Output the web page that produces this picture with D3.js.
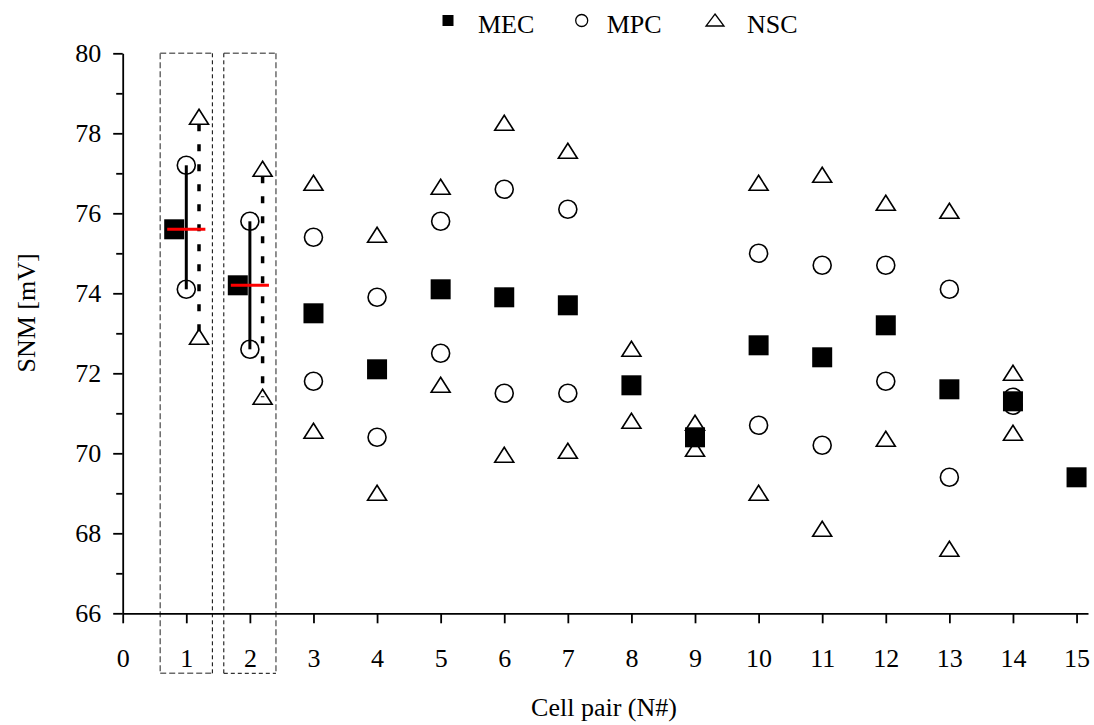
<!DOCTYPE html>
<html>
<head>
<meta charset="utf-8">
<script src="https://cdn.jsdelivr.net/npm/d3@7"></script>
<style>
  body { margin: 0; background: #fff; }
  svg { display: block; font-family: "Liberation Serif", "Times New Roman", serif; }
</style>
</head>
<body>
<svg id="svg"></svg>
<script>
// cell pairs 1..15
const cells = [1, 2, 3, 4, 5, 6, 7, 8, 9, 10, 11, 12, 13, 14, 15];
const mec = [75.6, 74.2, 73.5, 72.1, 74.1, 73.9, 73.7, 71.7, 70.4, 72.7, 72.4, 73.2, 71.6, 71.3, 69.4];
const mpcHigh = [77.2, 75.8, 75.4, 73.9, 75.8, 76.6, 76.1, null, null, 75.0, 74.7, 74.7, 74.1, 71.4, null];
const mpcLow = [74.1, 72.6, 71.8, 70.4, 72.5, 71.5, 71.5, null, null, 70.7, 70.2, 71.8, 69.4, 71.2, null];
const nscHigh = [78.4, 77.1, 76.75, 75.45, 76.65, 78.25, 77.55, 72.6, 70.75, 76.75, 76.95, 76.25, 76.05, 72.0, null];
const nscLow = [72.9, 71.4, 70.55, 69.0, 71.7, 69.95, 70.05, 70.8, 70.1, 69.0, 68.1, 70.35, 67.6, 70.5, null];
const xTicks = d3.range(0, 16);
const yTicks = d3.range(66, 81, 2);
const yMinor = d3.range(67, 80, 2);
const series = ["MEC", "MPC", "NSC"];

// the first two pairs are drawn spread out with their ranges
const spread = [1, 2];
const shift = { MEC: -0.19, MPC: 0, NSC: 0.2 };

const svgWidth = 1094;
const svgHeight = 725;
const svg = d3.select("svg").attr("width", svgWidth).attr("height", svgHeight);

const x = d3.scaleLinear().domain([0, 15.18]).range([122.7, 1088]);
const y = d3.scaleLinear().domain([66, 80]).range([613.3, 53.3]);

function px(cell, name) {
    return x(cell + (spread.includes(cell) ? shift[name] : 0));
}

// dashed boxes round pairs 1 and 2
const boxHalf = 0.41;
const boxBottom = 64.5;
const gray = { stroke: "#6b6b6b", width: 1.5, dash: "6,3" };
const dark = { stroke: "#000", width: 1, dash: "4,3" };
spread.forEach((c, i) => {
    const l = x(c - boxHalf), r = x(c + boxHalf), t = y(80), b = y(boxBottom);
    const sides = [
        [l, t, r, t, gray],
        [l, t, l, b, i == 0 ? gray : dark],
        [r, t, r, b, i == 0 ? dark : gray],
        [l, b, r, b, i == 0 ? gray : dark]
    ];
    sides.forEach(s => {
        svg.append("line")
            .attr("x1", s[0]).attr("y1", s[1]).attr("x2", s[2]).attr("y2", s[3])
            .attr("stroke", s[4].stroke)
            .attr("stroke-width", s[4].width)
            .attr("stroke-dasharray", s[4].dash);
    });
});

// axes
const yAxis = svg.append("g")
    .attr("transform", "translate(" + x(0) + ",0)")
    .call(d3.axisLeft(y).tickValues(yTicks).tickSize(9.5).tickSizeOuter(0).tickPadding(12));
svg.append("g")
    .attr("transform", "translate(" + x(0) + ",0)")
    .call(d3.axisLeft(y).tickValues(yMinor).tickSize(6.5).tickSizeOuter(0).tickFormat(""))
    .select(".domain").remove();
const xAxis = svg.append("g")
    .attr("transform", "translate(0," + y(66) + ")")
    .call(d3.axisBottom(x).tickValues(xTicks).tickSize(10).tickSizeOuter(0).tickPadding(25.5));

svg.selectAll(".domain, .tick line").attr("stroke", "#000").attr("stroke-width", 1.8);
svg.selectAll(".tick text")
    .attr("fill", "#000")
    .style("font-size", "26px")
    .style("font-family", "Liberation Serif, serif");

// axis titles
svg.append("text")
    .attr("x", 604).attr("y", 716)
    .attr("text-anchor", "middle")
    .style("font-size", "26px")
    .text("Cell pair (N#)");
svg.append("text")
    .attr("transform", "translate(35,313) rotate(-90)")
    .attr("text-anchor", "middle")
    .style("font-size", "26px")
    .text("SNM [mV]");

// markers
const triangle = "M0,-8L9.5,7L-9.5,7Z";
const mpcPts = [], nscPts = [];
cells.forEach((c, i) => {
    [mpcHigh[i], mpcLow[i]].forEach(v => { if (v != null) mpcPts.push([c, v]); });
    [nscHigh[i], nscLow[i]].forEach(v => { if (v != null) nscPts.push([c, v]); });
});

svg.append("g").selectAll("circle")
    .data(mpcPts)
    .enter()
    .append("circle")
    .attr("cx", d => px(d[0], "MPC"))
    .attr("cy", d => y(d[1]))
    .attr("r", 9)
    .attr("fill", "none")
    .attr("stroke", "#000")
    .attr("stroke-width", 1.6);

svg.append("g").selectAll("path")
    .data(nscPts)
    .enter()
    .append("path")
    .attr("d", triangle)
    .attr("transform", d => "translate(" + px(d[0], "NSC") + "," + y(d[1]) + ")")
    .attr("fill", "none")
    .attr("stroke", "#000")
    .attr("stroke-width", 1.6);

svg.append("g").selectAll("rect")
    .data(cells)
    .enter()
    .append("rect")
    .attr("x", (d, i) => px(d, "MEC") - 10)
    .attr("y", (d, i) => y(mec[i]) - 10)
    .attr("width", 20)
    .attr("height", 20)
    .attr("fill", "#000");

// ranges and mean for the spread pairs
spread.forEach(c => {
    const i = cells.indexOf(c);
    svg.append("line")
        .attr("x1", px(c, "MPC")).attr("x2", px(c, "MPC"))
        .attr("y1", y(mpcHigh[i])).attr("y2", y(mpcLow[i]))
        .attr("stroke", "#000").attr("stroke-width", 3);
    svg.append("line")
        .attr("x1", px(c, "NSC")).attr("x2", px(c, "NSC"))
        .attr("y1", y(nscHigh[i]) + 7).attr("y2", y(nscLow[i]))
        .attr("stroke", "#000").attr("stroke-width", 3.5)
        .attr("stroke-dasharray", "7,13");
    svg.append("line")
        .attr("x1", x(c - 0.3)).attr("x2", x(c + 0.3))
        .attr("y1", y(mec[i])).attr("y2", y(mec[i]))
        .attr("stroke", "#ff0000").attr("stroke-width", 3);
});

// legend
const legend = svg.append("g");
const legendX = [448, 581.7, 715];
legend.append("rect").attr("x", legendX[0] - 5.5).attr("y", 15).attr("width", 11).attr("height", 11).attr("fill", "#000");
legend.append("circle").attr("cx", legendX[1]).attr("cy", 20.5).attr("r", 6).attr("fill", "none").attr("stroke", "#000").attr("stroke-width", 1.3);
legend.append("path").attr("d", "M0,-6L9,6L-9,6Z").attr("transform", "translate(" + legendX[2] + ",20)")
    .attr("fill", "none").attr("stroke", "#000").attr("stroke-width", 1.3);
legend.selectAll("text")
    .data(series)
    .enter()
    .append("text")
    .attr("x", (d, i) => legendX[i] + [30, 25, 32][i])
    .attr("y", 33)
    .style("font-size", "26px")
    .text(d => d);
</script>
</body>
</html>
